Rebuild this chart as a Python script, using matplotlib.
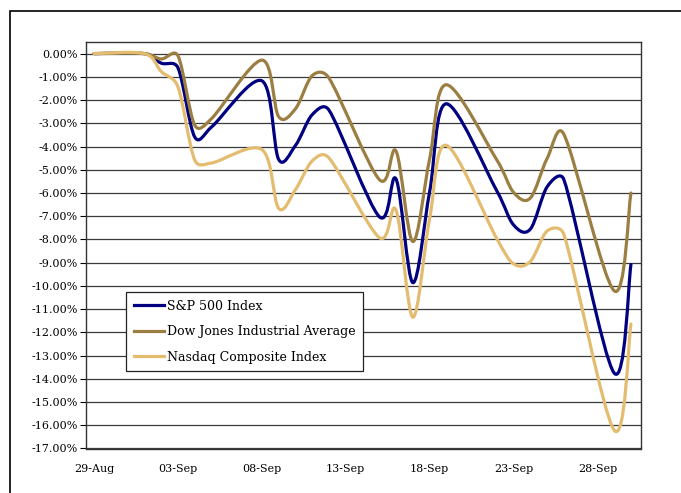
import numpy as np
import pandas as pd
import matplotlib.pyplot as plt
from matplotlib.path import Path
from matplotlib.patches import PathPatch, Rectangle

# fechas (dias de mercado) y variacion acumulada en % desde 29-Aug
dates = ['2008-08-29', '2008-09-01', '2008-09-02', '2008-09-03', '2008-09-04',
         '2008-09-05', '2008-09-08', '2008-09-09', '2008-09-10', '2008-09-11',
         '2008-09-12', '2008-09-15', '2008-09-16', '2008-09-17', '2008-09-18',
         '2008-09-19', '2008-09-22', '2008-09-23', '2008-09-24', '2008-09-25',
         '2008-09-26', '2008-09-29', '2008-09-30']

sp500 = [0.00, 0.00, -0.41, -0.61, -3.59, -3.16, -1.17, -4.55, -3.96, -2.63,
         -2.43, -7.02, -5.40, -9.86, -5.95, -2.16, -5.90, -7.37, -7.56, -5.74,
         -5.42, -13.75, -9.08]
dow = [0.00, 0.00, -0.23, -0.09, -3.08, -2.80, -0.28, -2.71, -2.38, -0.95,
       -1.05, -5.42, -4.20, -8.09, -4.54, -1.34, -4.57, -5.97, -6.22, -4.52,
       -3.47, -10.21, -6.00]
nasdaq = [0.00, 0.00, -0.77, -1.43, -4.58, -4.71, -4.13, -6.66, -5.86, -4.62,
          -4.49, -7.92, -6.74, -11.35, -7.11, -3.95, -7.96, -9.05, -8.95, -7.64,
          -7.78, -16.21, -11.64]

labels = ['S&P 500 Index', 'Dow Jones Industrial Average', 'Nasdaq Composite Index']
colors = ['#000080', '#9B7F42', '#E4BC70']

d = pd.to_datetime(dates)
x = (d - d[0]).days.values.astype(float)

# escala aproximada en pixeles (para que el suavizado no dependa de las unidades)
PX_DAY, PX_PCT = 16.77, 23.2


def smooth_path(xs, ys, cap=0.5):
    # linea suavizada tipo Excel: Bezier con brazos (Pnext - Pprev)/6,
    # limitados a la mitad del tramo para no pasarse en tramos cortos
    pts = np.column_stack([xs * PX_DAY, ys * PX_PCT])
    n = len(pts)

    def arm(v, seg):
        L = np.hypot(*v)
        lim = cap * seg
        return v * (lim / L) if L > lim else v

    verts = [pts[0]]
    codes = [Path.MOVETO]
    for i in range(n - 1):
        p0 = pts[max(i - 1, 0)]
        p1, p2 = pts[i], pts[i + 1]
        p3 = pts[min(i + 2, n - 1)]
        seg = np.hypot(*(p2 - p1))
        verts += [p1 + arm((p2 - p0) / 6, seg), p2 - arm((p3 - p1) / 6, seg), p2]
        codes += [Path.CURVE4] * 3
    verts = np.array(verts) / [PX_DAY, PX_PCT]
    return Path(verts, codes)


plt.rcParams['font.family'] = ['DejaVu Serif']

fig = plt.figure(figsize=(6.81, 4.93), dpi=100)
ax = fig.add_axes([86 / 681, 1 - 448.5 / 493, 555 / 681, 406.5 / 493])

for y, c, lab in zip([sp500, dow, nasdaq], colors, labels):
    ax.add_patch(PathPatch(smooth_path(x, np.array(y)), facecolor='none',
                           edgecolor=c, lw=2.3, capstyle='round', joinstyle='round', zorder=3))
    ax.plot([], [], color=c, lw=2.3, label=lab)

ax.set_xlim(-0.48, 32.6)
ax.set_ylim(-17, 0.5)

yt = np.arange(0, -18, -1)
ax.set_yticks(yt)
ax.set_yticklabels(['%.2f%%' % v for v in yt], fontsize=8)
for v in yt:
    ax.axhline(v, color='#3a3a3a', lw=0.9, zorder=1)

xt = np.arange(0, 31, 5)
ax.set_xticks(xt)
ax.set_xticklabels([(d[0] + pd.Timedelta(days=int(v))).strftime('%d-%b') for v in xt], fontsize=8)
ax.tick_params(axis='x', length=0, pad=11)
ax.tick_params(axis='y', length=4, width=0.8, direction='out', pad=2)

for s in ax.spines.values():
    s.set_linewidth(1.0)
    s.set_color('#333333')

leg = ax.legend(loc='upper left', bbox_to_anchor=(126 / 681, 1 - 292 / 493),
                bbox_transform=fig.transFigure, borderaxespad=0, fontsize=9,
                frameon=True, fancybox=False, edgecolor='#222222', framealpha=1,
                handlelength=2.4, handletextpad=0.3, labelspacing=1.0,
                borderpad=0.6)
leg.get_frame().set_linewidth(0.9)
leg.set_zorder(5)

# marco exterior de la figura
fig.patches.append(Rectangle((10 / 681, -0.5), 2, 1.5 - 11 / 493, transform=fig.transFigure,
                             fill=False, edgecolor='black', lw=1.2))

plt.savefig('out.png', dpi=100)
